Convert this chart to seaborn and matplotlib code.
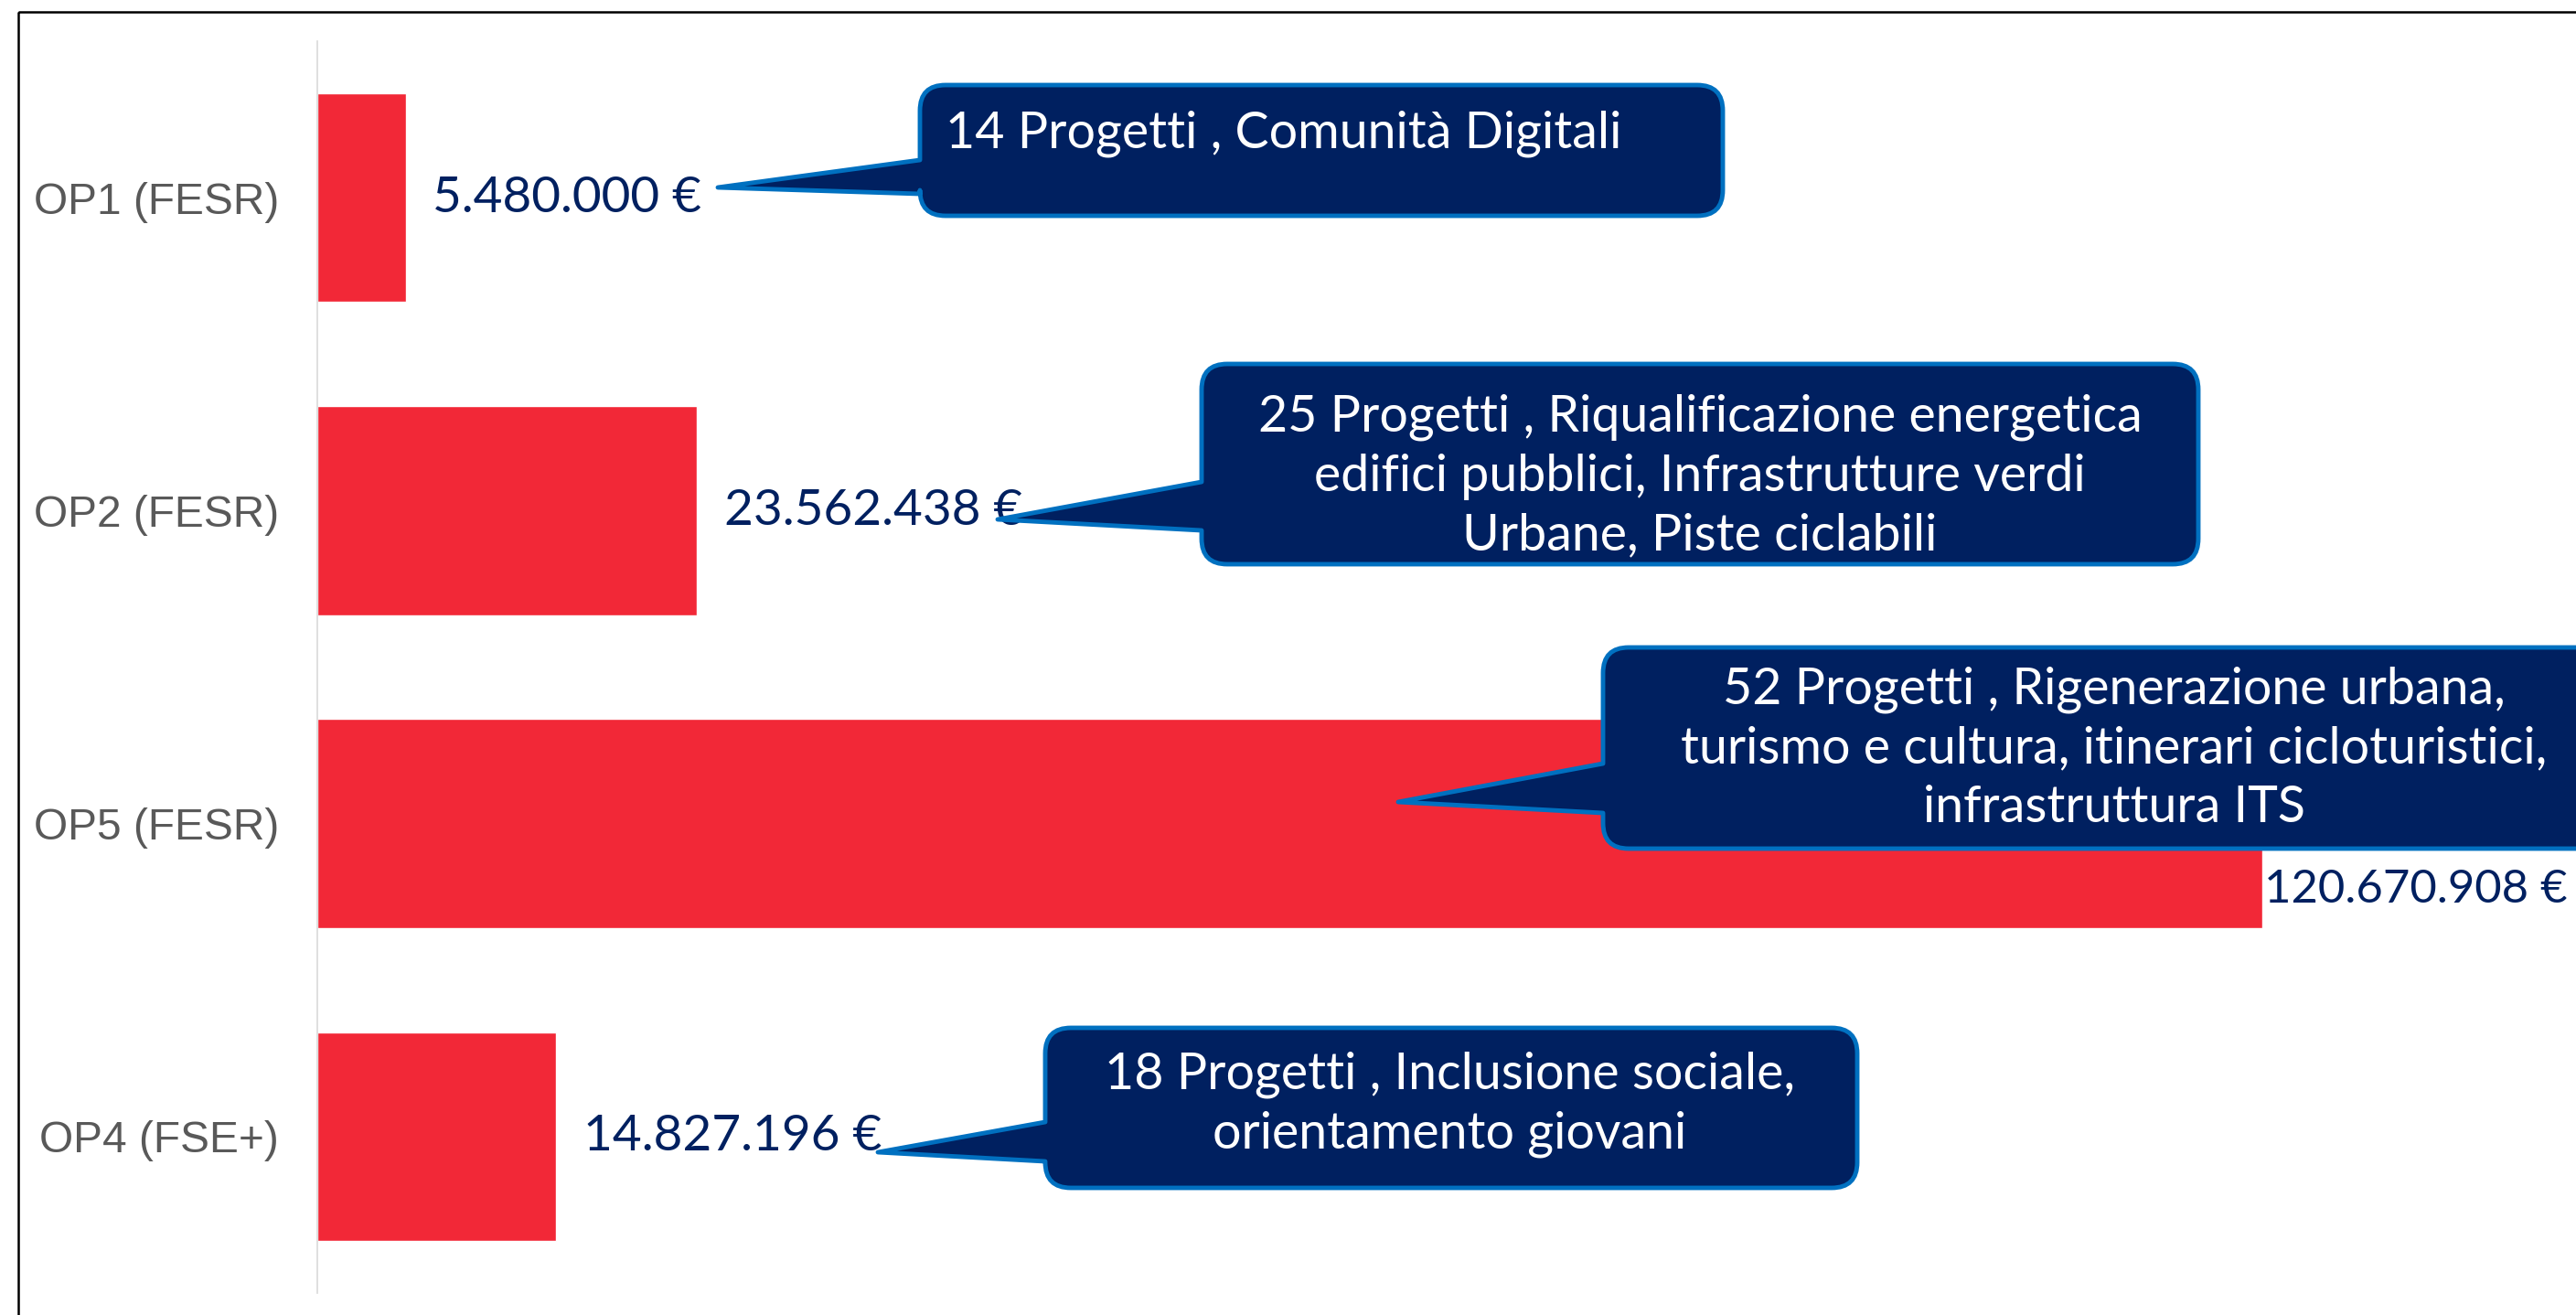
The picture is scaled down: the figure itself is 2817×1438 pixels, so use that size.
import matplotlib
matplotlib.use("Agg")
import matplotlib.pyplot as plt
import seaborn as sns
import pandas as pd
from matplotlib.path import Path
from matplotlib.patches import PathPatch, Rectangle
from matplotlib.transforms import Affine2D

# ---------------- data ----------------
categories = ["OP1 (FESR)", "OP2 (FESR)", "OP5 (FESR)", "OP4 (FSE+)"]
values = [5480000, 23562438, 120670908, 14827196]
value_labels = ["5.480.000 €", "23.562.438 €", "120.670.908 €", "14.827.196 €"]
callout_texts = [
    "14 Progetti , Comunità Digitali",
    "25 Progetti , Riqualificazione energetica\nedifici pubblici, Infrastrutture verdi\nUrbane, Piste ciclabili",
    "52 Progetti , Rigenerazione urbana,\nturismo e cultura, itinerari cicloturistici,\ninfrastruttura ITS",
    "18 Progetti , Inclusione sociale,\norientamento giovani",
]

W, H = 2817, 1438
BAR = "#F22837"
NAVY = "#002060"
EDGE = "#0070C0"
VFONT = ["Lato", "DejaVu Sans"]

sns.set_theme(style="white")
plt.rcParams["font.family"] = ["Liberation Sans", "DejaVu Sans"]

fig = plt.figure(figsize=(W / 100, H / 100), dpi=100)
# axes placed in pixel layout
ax_l, ax_r, ax_t, ax_b = 347, 2815, 45, 1414
ax = fig.add_axes([ax_l / W, 1 - ax_b / H, (ax_r - ax_l) / W, (ax_b - ax_t) / H])

df = pd.DataFrame({"cat": categories, "val": values})
sns.barplot(data=df, x="val", y="cat", orient="h", color=BAR, saturation=1,
            width=0.667, ax=ax, order=categories)
ax.set_xlim(0, 140e6)
ax.set_ylim(3.5, -0.5)
ax.set_xlabel("")
ax.set_ylabel("")
ax.set_xticks([])
for s in ["top", "right", "bottom"]:
    ax.spines[s].set_visible(False)
ax.spines["left"].set_color("#D9D9D9")
ax.spines["left"].set_linewidth(1.2)
ax.tick_params(axis="y", length=0, pad=30, labelsize=34.5, labelcolor="#595959")

# value labels
for i, (v, lab) in enumerate(zip(values, value_labels)):
    if i == 2:
        ax.annotate(lab, xy=(v, i), xytext=(1.5, -52), textcoords="offset points",
                    ha="left", va="center", fontsize=36.5, color=NAVY,
                    family=VFONT, annotation_clip=False, clip_on=False)
    else:
        ax.annotate(lab, xy=(v, i), xytext=(21, 0), textcoords="offset points",
                    ha="left", va="center", fontsize=39.5, color=NAVY,
                    family=VFONT)

# pixel -> figure transform (y down)
px = Affine2D().scale(1 / W, -1 / H).translate(0, 1) + fig.transFigure


def callout(x0, y0, x1, y1, b1, b2, tip, r=28):
    verts = [
        (x0 + r, y0), (x1 - r, y0), (x1, y0), (x1, y0 + r),
        (x1, y1 - r), (x1, y1), (x1 - r, y1),
        (x0 + r, y1), (x0, y1), (x0, y1 - r),
        (x0, b2), tip, (x0, b1),
        (x0, y0 + r), (x0, y0), (x0 + r, y0), (x0 + r, y0),
    ]
    codes = [
        Path.MOVETO, Path.LINETO, Path.CURVE3, Path.CURVE3,
        Path.LINETO, Path.CURVE3, Path.CURVE3,
        Path.LINETO, Path.CURVE3, Path.CURVE3,
        Path.LINETO, Path.LINETO, Path.LINETO,
        Path.LINETO, Path.CURVE3, Path.CURVE3, Path.CLOSEPOLY,
    ]
    p = PathPatch(Path(verts, codes), transform=px, facecolor=NAVY, edgecolor=EDGE,
                  linewidth=3.5, joinstyle="round", zorder=5, clip_on=False)
    fig.add_artist(p)


boxes = [
    (1006, 93, 1884, 236, 175, 212, (785, 205)),
    (1314, 398, 2404, 617, 527, 580, (1091, 568)),
    (1753, 708, 2880, 928, 835, 889, (1529, 877)),
    (1143, 1124, 2031, 1299, 1227, 1270, (960, 1260)),
]
for b in boxes:
    callout(*b)

txt_kw = dict(transform=px, color="white", fontsize=40, family=VFONT,
              zorder=6, linespacing=1.33)
fig.text(1034, 162, callout_texts[0], ha="left", va="baseline", **txt_kw)
fig.text(1859, 521, callout_texts[1], ha="center", va="center", multialignment="center", **txt_kw)
fig.text(2312, 819, callout_texts[2], ha="center", va="center", multialignment="center", **txt_kw)
fig.text(1585, 1208, callout_texts[3], ha="center", va="center", multialignment="center", **txt_kw)

# outer frame
fig.add_artist(Rectangle((20, 13), 3000, 2000, transform=px, fill=False,
                         edgecolor="black", linewidth=1.8, zorder=10))

fig.savefig("out.png", dpi=100)
